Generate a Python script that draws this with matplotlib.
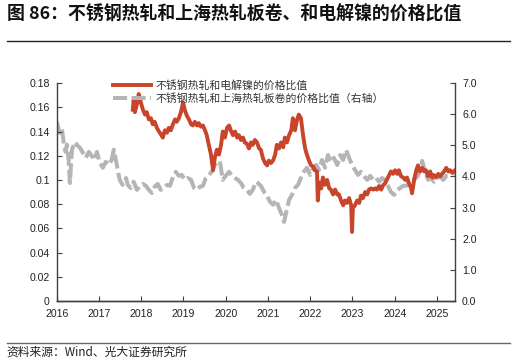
import matplotlib
matplotlib.use("Agg")
import matplotlib.pyplot as plt

plt.rcParams['font.family'] = ['Liberation Sans', 'Noto Sans CJK SC', 'DejaVu Sans']

title = "图 86：不锈钢热轧和上海热轧板卷、和电解镍的价格比值"
source = "资料来源：Wind、光大证券研究所"
label_red = "不锈钢热轧和电解镍的价格比值"
label_gray = "不锈钢热轧和上海热轧板卷的价格比值（右轴）"

years = [2016, 2017, 2018, 2019, 2020, 2021, 2022, 2023, 2024, 2025]
left_ticks = [0, 0.02, 0.04, 0.06, 0.08, 0.1, 0.12, 0.14, 0.16, 0.18]
left_labels = ["0", "0.02", "0.04", "0.06", "0.08", "0.1", "0.12", "0.14", "0.16", "0.18"]
right_ticks = [0, 1, 2, 3, 4, 5, 6, 7]
right_labels = ["0.0", "1.0", "2.0", "3.0", "4.0", "5.0", "6.0", "7.0"]

# gray series: stainless HR / Shanghai HR coil (right axis)
gray_t = [2016.00, 2016.02, 2016.07, 2016.12, 2016.14, 2016.17, 2016.21, 2016.24, 2016.28, 2016.31,
          2016.36, 2016.43, 2016.50, 2016.55, 2016.62, 2016.69, 2016.76, 2016.83, 2016.90, 2016.95,
          2017.02, 2017.09, 2017.16, 2017.23, 2017.30, 2017.35, 2017.40, 2017.45, 2017.49, 2017.56,
          2017.64, 2017.68, 2017.75, 2017.82, 2017.90, 2017.97, 2018.04, 2018.11, 2018.18, 2018.25,
          2018.32, 2018.39, 2018.46, 2018.54, 2018.61, 2018.68, 2018.75, 2018.82, 2018.89, 2018.96,
          2019.03, 2019.10, 2019.18, 2019.25, 2019.32, 2019.39, 2019.46, 2019.53, 2019.60, 2019.67,
          2019.74, 2019.82, 2019.86, 2019.93, 2020.00, 2020.08, 2020.15, 2020.22, 2020.29, 2020.36,
          2020.43, 2020.50, 2020.57, 2020.64, 2020.72, 2020.76, 2020.83, 2020.91, 2020.98, 2021.05,
          2021.12, 2021.19, 2021.26, 2021.33, 2021.38, 2021.43, 2021.50, 2021.57, 2021.64, 2021.71,
          2021.78, 2021.85, 2021.92, 2022.00, 2022.07, 2022.14, 2022.21, 2022.28, 2022.35, 2022.42,
          2022.49, 2022.56, 2022.64, 2022.71, 2022.78, 2022.85, 2022.92, 2022.99, 2023.06, 2023.13,
          2023.20, 2023.27, 2023.35, 2023.42, 2023.49, 2023.56, 2023.63, 2023.70, 2023.77, 2023.84,
          2023.91, 2023.99, 2024.06, 2024.13, 2024.20, 2024.27, 2024.34, 2024.41, 2024.48, 2024.55,
          2024.63, 2024.65, 2024.72, 2024.79, 2024.86, 2024.93, 2025.00, 2025.08, 2025.15, 2025.22,
          2025.29, 2025.36, 2025.43]
gray_v = [5.76, 5.66, 5.40, 5.56, 5.34, 5.02, 4.79, 5.02, 4.53, 3.79,
          4.86, 5.11, 4.98, 4.92, 4.76, 4.60, 4.79, 4.66, 4.53, 4.79,
          4.44, 4.28, 4.47, 4.37, 4.53, 4.86, 4.53, 4.15, 3.89, 3.73,
          3.95, 3.73, 3.63, 3.83, 3.57, 3.70, 3.76, 3.70, 3.57, 3.47,
          3.67, 3.76, 3.57, 3.63, 3.73, 3.70, 3.99, 4.15, 4.02, 4.05,
          3.89, 3.95, 3.89, 3.63, 3.57, 3.67, 3.70, 3.95, 4.05, 4.15,
          4.37, 4.47, 4.50, 3.89, 4.02, 4.15, 4.02, 3.95, 3.89, 3.79,
          3.63, 3.57, 3.44, 3.57, 3.83, 3.79, 3.70, 3.50, 3.38, 3.18,
          3.09, 3.25, 2.99, 2.77, 2.54, 2.83, 3.25, 3.41, 3.63, 3.73,
          3.95, 4.15, 4.28, 4.05, 4.28, 4.37, 4.21, 4.53, 4.28, 4.69,
          4.47, 4.60, 4.37, 4.69, 4.53, 4.86, 4.60, 4.37, 4.21, 4.05,
          4.15, 4.02, 3.89, 4.02, 3.89, 3.95, 3.83, 3.95, 3.89, 3.70,
          3.50, 3.41, 3.57, 3.63, 3.70, 3.70, 3.76, 3.89, 3.92, 4.02,
          4.37, 4.50, 4.15, 3.89, 3.95, 3.83, 3.95, 3.99, 3.89, 4.02,
          4.02, 4.12, 4.08]

# red series: stainless HR / electrolytic nickel (left axis)
red_t = [2017.80, 2017.82, 2017.85, 2017.90, 2017.94, 2017.99, 2018.04, 2018.09, 2018.13, 2018.18,
         2018.23, 2018.27, 2018.32, 2018.37, 2018.42, 2018.46, 2018.51, 2018.56, 2018.61, 2018.65,
         2018.70, 2018.75, 2018.80, 2018.84, 2018.89, 2018.94, 2018.99, 2019.03, 2019.08, 2019.13,
         2019.18, 2019.22, 2019.27, 2019.32, 2019.36, 2019.41, 2019.46, 2019.51, 2019.55, 2019.60,
         2019.65, 2019.70, 2019.74, 2019.79, 2019.84, 2019.89, 2019.93, 2019.98, 2020.03, 2020.08,
         2020.12, 2020.17, 2020.22, 2020.27, 2020.31, 2020.36, 2020.41, 2020.45, 2020.50, 2020.55,
         2020.60, 2020.64, 2020.69, 2020.74, 2020.79, 2020.83, 2020.88, 2020.93, 2020.98, 2021.02,
         2021.07, 2021.12, 2021.17, 2021.21, 2021.26, 2021.31, 2021.36, 2021.40, 2021.45, 2021.50,
         2021.55, 2021.59, 2021.64, 2021.69, 2021.73, 2021.78, 2021.83, 2021.88, 2021.92, 2021.97,
         2022.02, 2022.07, 2022.11, 2022.16, 2022.18, 2022.21, 2022.26, 2022.30, 2022.35, 2022.40,
         2022.45, 2022.49, 2022.54, 2022.59, 2022.64, 2022.68, 2022.73, 2022.78, 2022.82, 2022.87,
         2022.92, 2022.97, 2022.99, 2023.01, 2023.06, 2023.11, 2023.16, 2023.20, 2023.25, 2023.30,
         2023.35, 2023.39, 2023.44, 2023.49, 2023.54, 2023.58, 2023.63, 2023.68, 2023.73, 2023.77,
         2023.84, 2023.91, 2023.96, 2024.01, 2024.06, 2024.10, 2024.15, 2024.20, 2024.25, 2024.29,
         2024.34, 2024.39, 2024.41, 2024.46, 2024.51, 2024.55, 2024.60, 2024.65, 2024.70, 2024.74,
         2024.79, 2024.84, 2024.89, 2024.93, 2024.98, 2025.03, 2025.08, 2025.12, 2025.17, 2025.22,
         2025.27, 2025.31, 2025.36, 2025.43]
red_v = [0.158, 0.166, 0.156, 0.163, 0.171, 0.164, 0.158, 0.154, 0.156, 0.150,
         0.151, 0.146, 0.148, 0.143, 0.140, 0.138, 0.135, 0.141, 0.139, 0.143,
         0.141, 0.146, 0.150, 0.148, 0.151, 0.156, 0.164, 0.158, 0.153, 0.150,
         0.146, 0.145, 0.148, 0.145, 0.147, 0.144, 0.145, 0.141, 0.137, 0.129,
         0.121, 0.108, 0.118, 0.125, 0.121, 0.129, 0.140, 0.135, 0.143, 0.145,
         0.141, 0.137, 0.140, 0.135, 0.137, 0.133, 0.135, 0.131, 0.130, 0.126,
         0.131, 0.129, 0.133, 0.131, 0.126, 0.125, 0.118, 0.114, 0.112, 0.116,
         0.114, 0.116, 0.121, 0.129, 0.126, 0.131, 0.127, 0.135, 0.131, 0.137,
         0.141, 0.151, 0.141, 0.150, 0.154, 0.151, 0.137, 0.126, 0.121, 0.116,
         0.112, 0.111, 0.108, 0.107, 0.083, 0.098, 0.093, 0.102, 0.096, 0.100,
         0.093, 0.092, 0.088, 0.092, 0.088, 0.088, 0.083, 0.079, 0.083, 0.081,
         0.085, 0.079, 0.057, 0.077, 0.079, 0.083, 0.081, 0.087, 0.085, 0.090,
         0.088, 0.092, 0.093, 0.092, 0.093, 0.092, 0.095, 0.092, 0.096, 0.097,
         0.102, 0.107, 0.105, 0.108, 0.105, 0.108, 0.103, 0.102, 0.100, 0.102,
         0.097, 0.093, 0.089, 0.100, 0.108, 0.112, 0.107, 0.110, 0.107, 0.108,
         0.103, 0.107, 0.102, 0.104, 0.102, 0.105, 0.103, 0.105, 0.107, 0.110,
         0.107, 0.108, 0.106, 0.108]

red_color = "#C8442A"
gray_color = "#B5B5B5"
spine_color = "#404040"

fig = plt.figure(figsize=(5.16, 3.63), dpi=100)
ax = fig.add_axes([0.110, 0.171, 0.772, 0.600])
ax2 = ax.twinx()

ax2.plot(gray_t, gray_v, color=gray_color, lw=2.9, dashes=(3.5, 1.1), solid_capstyle='butt')
ax.plot(red_t, red_v, color=red_color, lw=2.8)

ax.set_zorder(ax2.get_zorder() + 1)
ax.patch.set_visible(False)

ax.set_xlim(2016, 2025.43)
ax.set_ylim(0, 0.18)
ax2.set_ylim(0, 7)
ax.set_xticks(years)
ax.set_xticklabels([str(y) for y in years])
ax.set_yticks(left_ticks)
ax.set_yticklabels(left_labels)
ax2.set_yticks(right_ticks)
ax2.set_yticklabels(right_labels)

for a in (ax, ax2):
    a.spines['top'].set_visible(False)
    for s in ('left', 'right', 'bottom'):
        a.spines[s].set_color(spine_color)
        a.spines[s].set_linewidth(1.0)
    a.tick_params(direction='in', length=3.5, width=0.8, color=spine_color,
                  labelsize=7.6, labelcolor='#222222', pad=5)
ax.spines['right'].set_visible(False)
ax2.spines['left'].set_visible(False)
ax.tick_params(axis='x', pad=6)

h1, = ax.plot([], [], color=red_color, lw=2.8)
h2, = ax.plot([], [], color=gray_color, lw=2.9, dashes=(3.5, 1.1))
leg = ax.legend([h1, h2], [label_red, label_gray], loc='upper left',
                bbox_to_anchor=(0.13, 1.035), frameon=False,
                prop={'family': ['Noto Sans CJK SC'], 'size': 7.8},
                handlelength=3.5, handletextpad=0.4, labelspacing=0.25,
                borderaxespad=0.0)
for t in leg.get_texts():
    t.set_color('#333333')

fig.text(0.013, 0.961, title, fontsize=12.9, fontweight='bold',
         family=['Noto Sans CJK SC'], va='center', ha='left', color='#111111')
fig.add_artist(plt.Line2D([0.013, 0.988], [0.888, 0.888], color='#222222', lw=1.0))
fig.add_artist(plt.Line2D([0.013, 0.988], [0.055, 0.055], color='#666666', lw=1.0))
fig.text(0.013, 0.030, source, fontsize=8.5, family=['Noto Sans CJK SC'],
         va='center', ha='left', color='#222222')

fig.savefig("out.png", dpi=100)
